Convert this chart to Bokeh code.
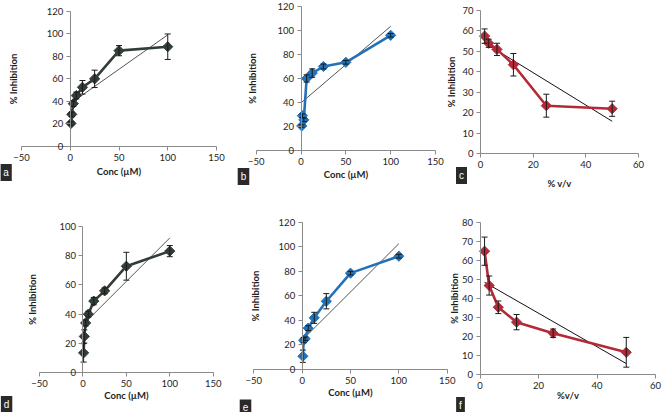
import numpy as np
from bokeh.plotting import figure
from bokeh.models import Range1d, LinearAxis, SingleIntervalTicker, Label
from bokeh.embed import file_html
from bokeh.resources import INLINE

# ---------------- data ----------------
conc = [0.78, 1.56, 3.125, 6.25, 12.5, 25, 50, 100]      # µM, panels a, b, d, e
vv = [1.5625, 3.125, 6.25, 12.5, 25, 50]                  # % v/v, panels c, f

a_y = [20.5, 28.5, 38, 45.2, 52.5, 60, 85, 88.5]
a_err = [1.5, 2, 2.5, 3, 6, 7.7, 4.5, 11.3]
a_trend_x = [0.78, 100]
a_trend_y = [38.5, 99]

b_y = [20.5, 29, 25.5, 60, 64.5, 70, 73.5, 96]
b_err = [1, 1.5, 1.5, 3, 3.5, 2, 1.5, 1.5]
b_trend_x = [0.78, 100]
b_trend_y = [40.2, 103.5]

c_y = [57.5, 54, 51, 43.5, 23.5, 22]
c_err = [3.5, 2, 3, 5.5, 5.6, 3.7]
c_trend_x = [1.5625, 50]
c_trend_y = [54.2, 15.9]

d_y = [13.6, 24.8, 34, 40, 48.9, 55.9, 72.7, 83]
d_err = [6.3, 4.5, 2, 2, 2.5, 2, 9.5, 3.8]
d_trend_x = [0.78, 100]
d_trend_y = [33.2, 92]

e_y = [10.8, 23.8, 25, 33.7, 42.1, 55.6, 78.5, 92.3]
e_err = [5, 2, 1.5, 2, 4.5, 6.2, 1.5, 1.5]
e_trend_x = [0.78, 100]
e_trend_y = [24.5, 102.5]

f_y = [64.8, 46.8, 35.4, 27.6, 21.8, 11.8]
f_err = [7.4, 5, 3.3, 4, 2.2, 7.8]
f_trend_x = [1.5625, 50]
f_trend_y = [48.5, 5.9]

x_titles = ["Conc (µM)", "Conc (µM)", "% v/v", "Conc (µM)", "Conc (µM)", "%v/v"]
y_title = "% Inhibition"
panel_letters = ["a", "b", "c", "d", "e", "f"]

# ---------------- styles / layout ----------------
GREEN = "#323d36"
BLUE = "#2371b6"
RED = "#b22a38"
AXC = "#8a8a8a"
FONT = "Lato"

W, H = 662, 412

def rng(p0, v0, p1, v1, lo_px, hi_px):
    k = (v1 - v0) / (p1 - p0)
    return Range1d(start=v0 + (lo_px - p0) * k, end=v0 + (hi_px - p0) * k)

# pixel anchors: x -> (px0, val0, px1, val1), y likewise
layout = {
    "a": dict(xp=(21, -50, 216, 150), yp=(146, 0, 10.7, 120), xb=(-50, 150), yb=(0, 120), xs=50, ys=20,
              ylab_so=25, xlab_so=2, box=(5.5, 172)),
    "b": dict(xp=(255.7, -50, 435, 150), yp=(150, 0, 6, 120), xb=(-50, 150), yb=(0, 120), xs=50, ys=20,
              ylab_so=17, xlab_so=1, box=(243, 176)),
    "c": dict(xp=(480, 0, 638, 60), yp=(153.3, 0, 10, 70), xb=(0, 60), yb=(0, 70), xs=20, ys=10,
              ylab_so=2, xlab_so=7, box=(461, 175)),
    "d": dict(xp=(39, -50, 212.7, 150), yp=(372.3, 0, 225.7, 100), xb=(-50, 150), yb=(0, 100), xs=50, ys=20,
              ylab_so=18, xlab_so=0, box=(6, 404)),
    "e": dict(xp=(253.3, -50, 446.7, 150), yp=(369, 0, 221.7, 120), xb=(-50, 150), yb=(0, 120), xs=50, ys=20,
              ylab_so=15, xlab_so=0, box=(245, 406)),
    "f": dict(xp=(479.5, 0, 655, 60), yp=(374.3, 0, 221.7, 80), xb=(0, 60), yb=(0, 80), xs=20, ys=10,
              ylab_so=-1, xlab_so=-2, box=(460, 405)),
}

series = {
    "a": (conc, a_y, a_err, a_trend_x, a_trend_y, GREEN, "#555555"),
    "b": (conc, b_y, b_err, b_trend_x, b_trend_y, BLUE, "#555555"),
    "c": (vv, c_y, c_err, c_trend_x, c_trend_y, RED, "#111111"),
    "d": (conc, d_y, d_err, d_trend_x, d_trend_y, GREEN, "#555555"),
    "e": (conc, e_y, e_err, e_trend_x, e_trend_y, BLUE, "#555555"),
    "f": (vv, f_y, f_err, f_trend_x, f_trend_y, RED, "#111111"),
}

p = figure(width=W, height=H, x_range=Range1d(0, W), y_range=Range1d(H, 0),
           min_border=0, x_axis_location=None, y_axis_location=None,
           toolbar_location=None, output_backend="svg",
           outline_line_color=None, background_fill_color="white", border_fill_color="white")
p.grid.visible = False

xr, yr = {}, {}
for k in panel_letters:
    L = layout[k]
    xr["x" + k] = rng(*L["xp"], 0, W)
    yr["y" + k] = rng(*L["yp"], H, 0)
p.extra_x_ranges = xr
p.extra_y_ranges = yr

def style_axis(ax):
    ax.axis_line_color = AXC
    ax.axis_line_width = 1
    ax.major_tick_line_color = AXC
    ax.major_tick_out = 4
    ax.major_tick_in = 0
    ax.minor_tick_out = 0
    ax.minor_tick_in = 0
    ax.major_label_text_font = FONT
    ax.major_label_text_font_size = "9.5px"
    ax.major_label_text_color = "#1e1e1e"
    ax.major_label_standoff = 3
    ax.axis_label_text_font = FONT
    ax.axis_label_text_font_size = "9.5px"
    ax.axis_label_text_font_style = "bold"
    ax.axis_label_text_color = "#1e1e1e"

for i, k in enumerate(panel_letters):
    L = layout[k]
    xs, ys, err, tx, ty, col, tcol = series[k]
    xn, yn = "x" + k, "y" + k
    kw = dict(x_range_name=xn, y_range_name=yn)

    xax = LinearAxis(x_range_name=xn, y_range_name=yn, fixed_location=0, bounds=L["xb"],
                     ticker=SingleIntervalTicker(interval=L["xs"]), axis_label=x_titles[i],
                     axis_label_standoff=L["xlab_so"])
    style_axis(xax)
    p.add_layout(xax, "below")
    yax = LinearAxis(x_range_name=xn, y_range_name=yn, fixed_location=0, bounds=L["yb"],
                     ticker=SingleIntervalTicker(interval=L["ys"]), axis_label=y_title,
                     axis_label_standoff=L["ylab_so"])
    style_axis(yax)
    p.add_layout(yax, "left")

    # linear trendline
    p.line(tx, ty, line_color=tcol, line_width=1, **kw)
    # series line + markers
    p.line(xs, ys, line_color=col, line_width=2.6, **kw)
    p.scatter(xs, ys, marker="square", angle=np.pi / 4, size=7.2, fill_color=col,
              line_color=col, **kw)
    # error bars
    lo = [v - e for v, e in zip(ys, err)]
    hi = [v + e for v, e in zip(ys, err)]
    p.segment(x0=xs, y0=lo, x1=xs, y1=hi, line_color="#1a1a1a", line_width=1, **kw)
    p.scatter(xs, hi, marker="dash", size=6, line_color="#1a1a1a", line_width=1, **kw)
    p.scatter(xs, lo, marker="dash", size=6, line_color="#1a1a1a", line_width=1, **kw)

    bx, by = L["box"]
    p.add_layout(Label(x=bx, y=by, text=k, text_align="center", text_baseline="middle",
                       text_font="Liberation Sans", text_font_size="10px", text_color="white",
                       background_fill_color="#2a2a2a", padding=3))

open("out.html", "w").write(file_html(p, INLINE))
